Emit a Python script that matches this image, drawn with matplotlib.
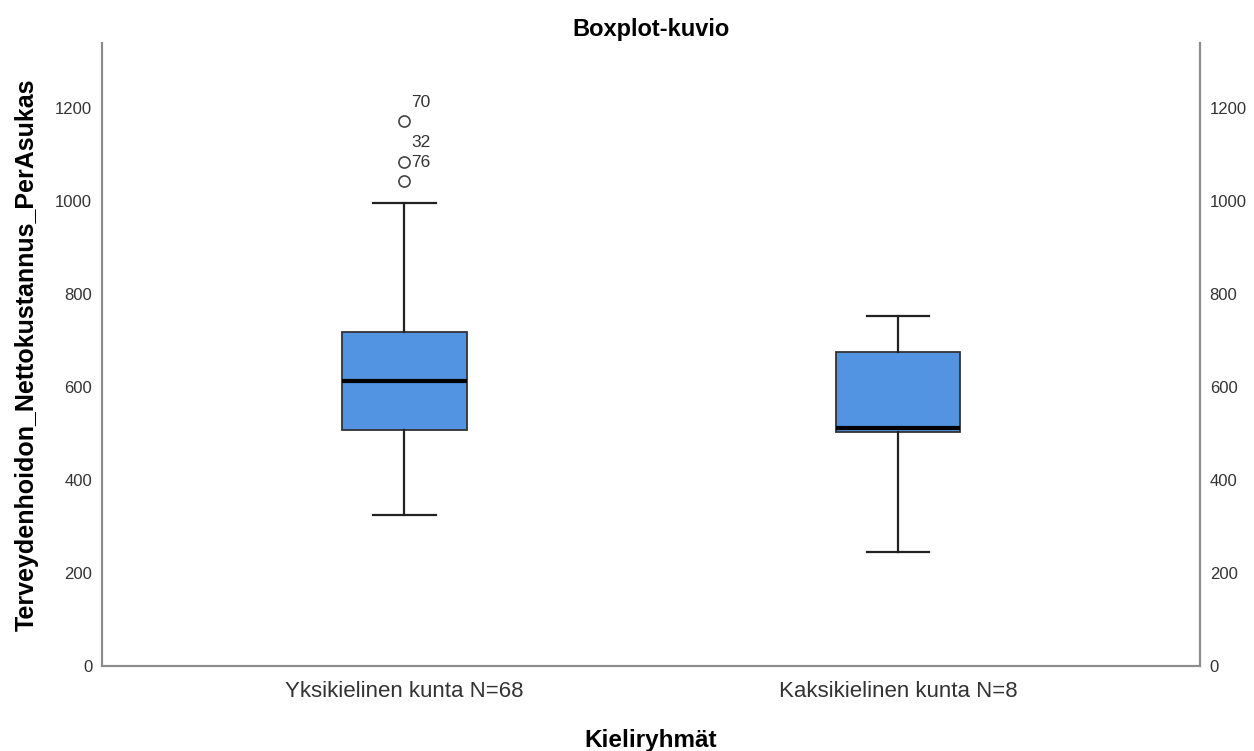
import matplotlib
matplotlib.use("Agg")
import matplotlib.pyplot as plt

plt.rcParams['font.family'] = ['Liberation Sans', 'DejaVu Sans']

# group labels and box statistics
groups = ["Yksikielinen kunta N=68", "Kaksikielinen kunta N=8"]
q1 = [507, 503]
medians = [614, 512]
q3 = [718, 675]
whisker_low = [325, 245]
whisker_high = [996, 753]

# outliers of the first group, with case numbers
outlier_vals = [1172, 1085, 1044]
outlier_ids = ["70", "32", "76"]

box_color = "#5294e2"
axis_gray = "#8c8c8c"

stats = []
for i in range(len(groups)):
    stats.append({
        "med": medians[i], "q1": q1[i], "q3": q3[i],
        "whislo": whisker_low[i], "whishi": whisker_high[i],
        "fliers": outlier_vals if i == 0 else [],
    })

fig = plt.figure(figsize=(12.54, 7.51), dpi=100)
ax = fig.add_axes([0.0813, 0.1132, 0.8756, 0.8295])

positions = [1, 2]
ax.bxp(stats, positions=positions, widths=0.253, patch_artist=True,
       boxprops=dict(facecolor=box_color, edgecolor="#333333", linewidth=1.3),
       medianprops=dict(color="black", linewidth=3),
       whiskerprops=dict(color="#222222", linewidth=1.6),
       capprops=dict(color="#222222", linewidth=1.6),
       capwidths=0.126,
       flierprops=dict(marker="o", markersize=8, markerfacecolor="white",
                       markeredgecolor="#444444", markeredgewidth=1.2))

for val, cid in zip(outlier_vals, outlier_ids):
    ax.annotate(cid, (positions[0], val), xytext=(5, 8), textcoords="offset points",
                fontsize=12.5, color="#333333", ha="left", va="bottom")

ax.set_xlim(0.387, 2.612)
ax.set_ylim(0, 1340)
ax.set_yticks([0, 200, 400, 600, 800, 1000, 1200])
ax.set_xticks(positions)
ax.set_xticklabels(groups, fontsize=16, color="#333333")
ax.tick_params(axis="y", length=0, pad=7, labelsize=12, labelcolor="#333333")
ax.tick_params(axis="x", length=0, pad=11)

ax2 = ax.twinx()
ax2.set_ylim(ax.get_ylim())
ax2.set_yticks([0, 200, 400, 600, 800, 1000, 1200])
ax2.tick_params(axis="y", length=0, pad=7, labelsize=12, labelcolor="#333333")

for a in (ax, ax2):
    a.spines["top"].set_visible(False)
    for s in ("left", "right", "bottom"):
        a.spines[s].set_color(axis_gray)
        a.spines[s].set_linewidth(1.5)

ax.set_title("Boxplot-kuvio", fontsize=17, fontweight="bold", pad=5)
ax.set_ylabel("Terveydenhoidon_Nettokustannus_PerAsukas", fontsize=18,
              fontweight="bold", labelpad=12)
ax.set_xlabel("Kieliryhmät", fontsize=17.5, fontweight="bold", labelpad=19)

fig.savefig("out.png", dpi=100)
